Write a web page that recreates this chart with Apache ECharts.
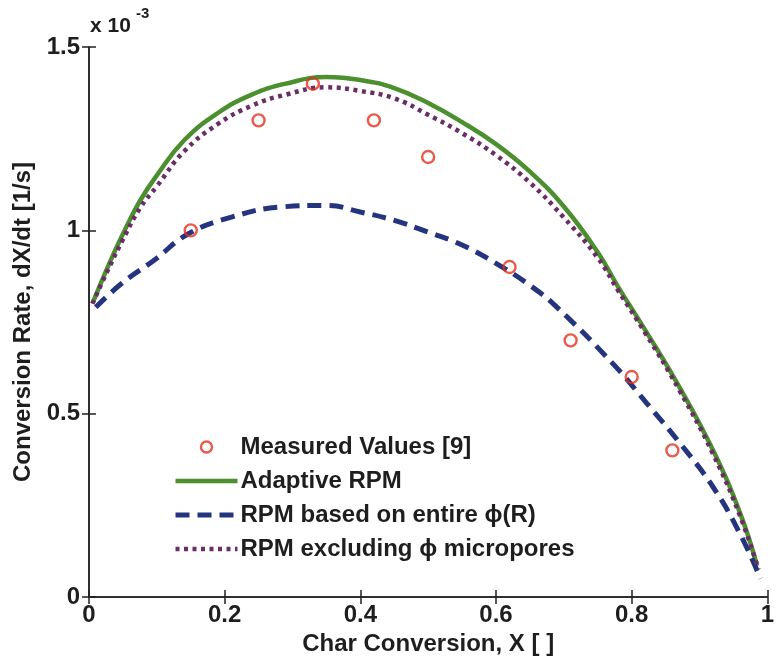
<!DOCTYPE html>
<html>
<head>
<meta charset="utf-8">
<script src="https://cdn.jsdelivr.net/npm/echarts@6/dist/echarts.min.js"></script>
<style>
  html, body { margin: 0; padding: 0; background: #fff; }
  #chart { width: 777px; height: 661px; }
</style>
</head>
<body>
<div id="chart"></div>
<script>
// Conversion rate (units of 1e-3 1/s) versus char conversion X

const xTicks = [0, 0.2, 0.4, 0.6, 0.8, 1];
const yTicks = [0, 0.5, 1, 1.5];

const measuredX = [0.15, 0.25, 0.33, 0.42, 0.50, 0.62, 0.71, 0.80, 0.86];
const measuredY = [1.00, 1.30, 1.40, 1.30, 1.20, 0.90, 0.70, 0.60, 0.40];

const adaptiveX = [0.005, 0.03, 0.05, 0.075, 0.10, 0.14, 0.19, 0.24, 0.29, 0.35, 0.40, 0.45, 0.50, 0.55, 0.60, 0.65, 0.70, 0.75, 0.78, 0.82, 0.87, 0.92, 0.96, 0.985];
const adaptiveY = [0.80, 0.91, 0.99, 1.08, 1.15, 1.245, 1.32, 1.37, 1.40, 1.418, 1.41, 1.388, 1.347, 1.295, 1.235, 1.16, 1.065, 0.94, 0.846, 0.728, 0.574, 0.40, 0.228, 0.085];

const entireX = [0.01, 0.048, 0.097, 0.146, 0.21, 0.285, 0.35, 0.40, 0.45, 0.50, 0.55, 0.60, 0.65, 0.69, 0.774, 0.822, 0.871, 0.92, 0.959, 0.99];
const entireY = [0.79, 0.855, 0.92, 0.99, 1.036, 1.064, 1.068, 1.05, 1.027, 0.995, 0.96, 0.91, 0.85, 0.79, 0.633, 0.529, 0.42, 0.30, 0.175, 0.05];

const exclX = [0.005, 0.03, 0.05, 0.075, 0.10, 0.14, 0.19, 0.24, 0.29, 0.35, 0.40, 0.45, 0.50, 0.55, 0.60, 0.65, 0.70, 0.75, 0.78, 0.82, 0.87, 0.92, 0.96, 0.987];
const exclY = [0.80, 0.90, 0.975, 1.06, 1.12, 1.215, 1.29, 1.34, 1.37, 1.39, 1.38, 1.36, 1.315, 1.265, 1.205, 1.13, 1.035, 0.925, 0.836, 0.72, 0.565, 0.39, 0.22, 0.075];

const seriesNames = [
  'Measured Values [9]',
  'Adaptive RPM',
  'RPM based on entire \u03d5(R)',
  'RPM excluding \u03d5 micropores'
];

const pairs = (xs, ys) => xs.map((x, i) => [x, ys[i]]);

const FONT = '"Liberation Sans", Arial, sans-serif';
const TXT = '#1e1e1e';
const RED = '#e2311d', GREEN = '#4b8f2f', NAVY = '#25347f', PURPLE = '#6a2d68';

const gridBox = { left: 89, top: 47, width: 685, height: 550 };

const axisLine = { show: true, lineStyle: { color: '#222', width: 1.5 } };
const innerTick = { show: true, inside: true, length: 7, lineStyle: { color: '#222', width: 1.5 } };
const noMarker = { opacity: 0 };

const greenLine = { color: GREEN, width: 4.5 };
const navyLine = { color: NAVY, width: 5, type: [14, 8] };
const purpleLine = { color: PURPLE, width: 4.5, type: [4, 4.5] };

const chart = echarts.init(document.getElementById('chart'), null, { renderer: 'canvas' });

chart.setOption({
  animation: false,
  backgroundColor: '#fff',
  grid: Object.assign({ containLabel: false }, gridBox),
  graphic: [
    { type: 'text', left: 90, top: 16,
      style: { text: 'x 10', font: 'bold 21px ' + FONT, fill: TXT } },
    { type: 'text', left: 136, top: 6,
      style: { text: '-3', font: 'bold 15px ' + FONT, fill: TXT } }
  ],
  legend: {
    orient: 'vertical',
    left: 168,
    top: 430,
    itemWidth: 62,
    itemHeight: 11,
    itemGap: 10,
    textStyle: { fontFamily: FONT, fontWeight: 'bold', fontSize: 24, color: TXT, padding: [0, 0, 0, -2] },
    data: [
      { name: seriesNames[0], icon: 'circle',
        itemStyle: { color: 'rgba(255,255,255,0)', borderColor: RED, borderWidth: 2.4 } },
      { name: seriesNames[1], itemStyle: noMarker, lineStyle: greenLine },
      { name: seriesNames[2], itemStyle: noMarker, lineStyle: navyLine },
      { name: seriesNames[3], itemStyle: noMarker, lineStyle: purpleLine }
    ]
  },
  xAxis: [
    {
      type: 'value', min: 0, max: 1, interval: 0.2, position: 'bottom',
      name: 'Char Conversion, X [ ]', nameLocation: 'middle', nameGap: 28,
      nameTextStyle: { fontFamily: FONT, fontWeight: 'bold', fontSize: 24, color: TXT },
      axisLine: axisLine, axisTick: innerTick, splitLine: { show: false },
      axisLabel: { margin: 6, fontFamily: FONT, fontWeight: 'bold', fontSize: 24, color: TXT,
        customValues: xTicks, formatter: v => String(+v.toFixed(1)) }
    },
    {
      type: 'value', min: 0, max: 1, interval: 0.2, position: 'top',
      axisLine: axisLine, axisTick: innerTick, axisLabel: { show: false }, splitLine: { show: false }
    }
  ],
  yAxis: [
    {
      type: 'value', min: 0, max: 1.5, interval: 0.5, position: 'left',
      name: 'Conversion Rate, dX/dt [1/s]', nameLocation: 'middle', nameGap: 50,
      nameTextStyle: { fontFamily: FONT, fontWeight: 'bold', fontSize: 24, color: TXT },
      axisLine: axisLine, axisTick: innerTick, splitLine: { show: false },
      axisLabel: { margin: 9, fontFamily: FONT, fontWeight: 'bold', fontSize: 24, color: TXT,
        customValues: yTicks, formatter: v => String(+v.toFixed(1)) }
    },
    {
      type: 'value', min: 0, max: 1.5, interval: 0.5, position: 'right',
      axisLine: axisLine, axisTick: innerTick, axisLabel: { show: false }, splitLine: { show: false }
    }
  ],
  series: [
    {
      name: seriesNames[1], type: 'line', data: pairs(adaptiveX, adaptiveY),
      smooth: 0.45, symbol: 'none', z: 2,
      lineStyle: greenLine, itemStyle: { color: GREEN }
    },
    {
      name: seriesNames[2], type: 'line', data: pairs(entireX, entireY),
      smooth: 0.45, symbol: 'none', z: 3,
      lineStyle: navyLine, itemStyle: { color: NAVY }
    },
    {
      name: seriesNames[3], type: 'line', data: pairs(exclX, exclY),
      smooth: 0.45, symbol: 'none', z: 4,
      lineStyle: purpleLine, itemStyle: { color: PURPLE }
    },
    {
      name: seriesNames[0], type: 'scatter', data: pairs(measuredX, measuredY),
      symbol: 'circle', symbolSize: 12, z: 5,
      itemStyle: { color: 'rgba(255,255,255,0)', borderColor: RED, borderWidth: 2.4 }
    }
  ]
});
</script>
</body>
</html>
